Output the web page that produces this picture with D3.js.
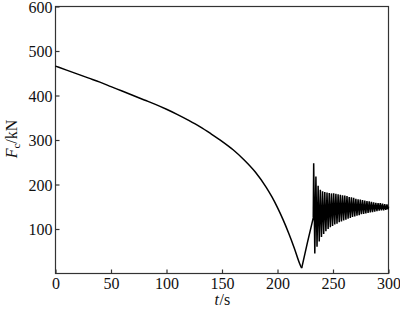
<!DOCTYPE html>
<html><head><meta charset="utf-8">
<script src="https://cdn.jsdelivr.net/npm/d3@7"></script>
<style>
html,body{margin:0;padding:0;background:#fff;}
</style></head>
<body><svg id="c" width="400" height="309" style="font-family:'Liberation Serif','Times New Roman',Times,serif"></svg>
<script>
// Smooth decreasing part (t in s, Fc in kN)
const smoothT = [0,10,20,30,40,50,60,70,80,90,100,110,120,130,140,150,160,170,180,190,195,200,205,210,215,220,221.8];
const smoothV = [466,457,448,439,430,420,410,400,390,380,369,357,344,330,314,297,278,255,228,193,172,148,121,91,58,22,12];
// Rise after the minimum, then oscillation extremes (alternating peak / trough)
const oscT = [227,232.2,232.6,233.6,234.6,235.6,236.6,237.6,238.6,239.6,240.6,241.6,242.6,243.6,244.6,245.6,246.6,247.6,248.6,249.6,250.6,251.6,252.6,253.6,254.6,255.6,256.6,257.6,258.6,259.6,260.6,261.6,262.6,263.6,264.6,265.6,266.6,267.6,268.6,269.6,270.6,271.6,272.6,273.6,274.6,275.6,276.6,277.6,278.6,279.6,280.6,281.6,282.6,283.6,284.6,285.6,286.6,287.6,288.6,289.6,290.6,291.6,292.6,293.6,294.6,295.6,296.6,297.6,298.6,299.6,300];
const oscV = [70,125,248,45,218,60,197,72,188,82,185,89,183,95,182,100,181,104,180,107,180,110,179,112,178,115,177,117,176,119,175,121,174,123,172,125,171,127,170,128,168,130,167,131,166,133,165,134,164,135,163,136,162,137,161,138,160,139,159,140,158,141,158,142,157,142,156,143,155,144,150];
const xTicks = [0,50,100,150,200,250,300];
const yTicks = [100,200,300,400,500,600];

const FONT = "Liberation Serif";
const m = {l:55.5, t:6.5, w:333, h:267};
const svg = d3.select("#c");
const x = d3.scaleLinear().domain([0,300]).range([m.l, m.l+m.w]);
const y = d3.scaleLinear().domain([0,600]).range([m.t+m.h, m.t]);

const data = smoothT.map((t,i)=>[t,smoothV[i]]).concat(oscT.map((t,i)=>[t,oscV[i]]));

// frame
svg.append("rect").attr("x",m.l).attr("y",m.t).attr("width",m.w).attr("height",m.h)
  .attr("fill","none").attr("stroke","#333").attr("stroke-width",1.2);

// axes with inward ticks
const gx = svg.append("g").attr("transform",`translate(0,${m.t+m.h})`)
  .call(d3.axisBottom(x).tickValues(xTicks).tickSizeInner(-4).tickSizeOuter(0).tickPadding(4).tickFormat(d3.format("d")));
const gy = svg.append("g").attr("transform",`translate(${m.l},0)`)
  .call(d3.axisLeft(y).tickValues(yTicks).tickSizeInner(-4).tickSizeOuter(0).tickPadding(3).tickFormat(d3.format("d")));
[gx,gy].forEach(g=>{
  g.attr("font-family",FONT).attr("font-size",16);
  g.select(".domain").remove();
  g.selectAll(".tick line").attr("stroke","#333").attr("stroke-width",1.2);
  g.selectAll(".tick text").attr("font-family",FONT).attr("font-size",16).attr("fill","#111");
});
gx.selectAll(".tick text").attr("dy","0.71em");
gy.selectAll(".tick text").attr("dy","0.35em");

// curve
const smoothLine = d3.line().x(d=>x(d[0])).y(d=>y(d[1])).curve(d3.curveMonotoneX);
svg.append("path").datum(data.slice(0, smoothT.length))
  .attr("d", smoothLine).attr("fill","none").attr("stroke","#000").attr("stroke-width",1.5);
const oscLine = d3.line().x(d=>x(d[0])).y(d=>y(d[1]));
svg.append("path").datum(data.slice(smoothT.length-1))
  .attr("d", oscLine).attr("fill","none").attr("stroke","#000").attr("stroke-width",1.5)
  .attr("stroke-linejoin","miter");

// axis titles
const yl = svg.append("text").attr("transform","translate(17,139) rotate(-90)")
  .attr("text-anchor","middle").attr("font-size",16).attr("font-family",FONT).attr("fill","#111");
yl.append("tspan").attr("font-style","italic").text("F");
yl.append("tspan").attr("font-size",11).attr("dy",3).text("c");
yl.append("tspan").attr("dy",-3).text("/kN");

svg.append("text").attr("x",219).attr("y",304.5).attr("text-anchor","end")
  .attr("font-size",16).attr("font-family",FONT).attr("font-style","italic").attr("fill","#111").text("t");
svg.append("text").attr("x",219.5).attr("y",304.5).attr("text-anchor","start")
  .attr("font-size",16).attr("font-family",FONT).attr("fill","#111").text("/s");
</script></body></html>
